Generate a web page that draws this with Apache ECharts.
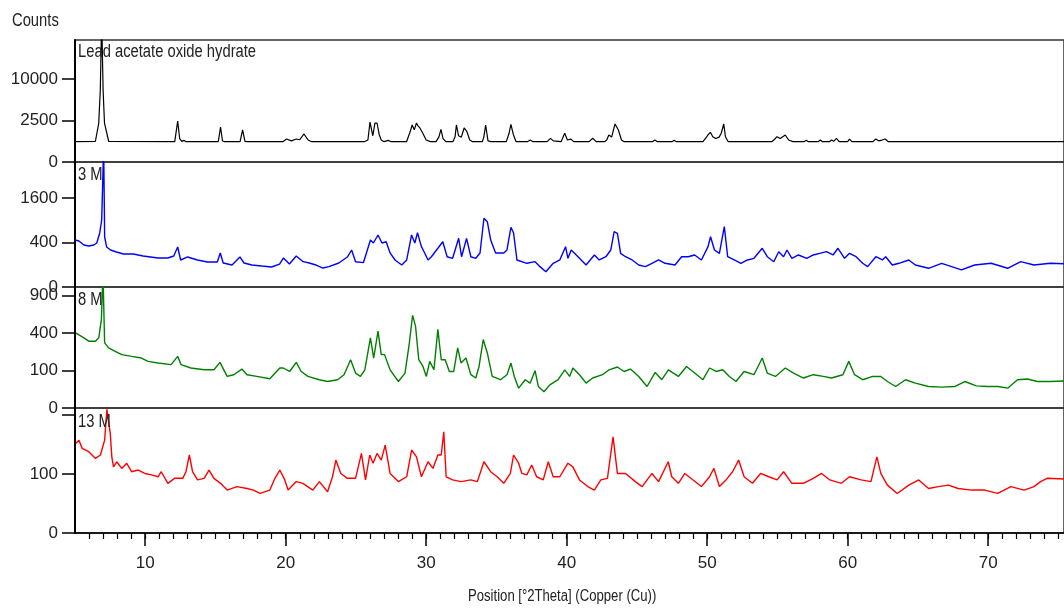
<!DOCTYPE html>
<html>
<head>
<meta charset="utf-8">
<script src="https://cdn.jsdelivr.net/npm/echarts@6/dist/echarts.min.js"></script>
<style>
  html, body { margin: 0; padding: 0; background: #fff; }
  #chart { width: 1064px; height: 608px; }
</style>
</head>
<body>
<div id="chart"></div>
<script>
// XRD patterns, [2theta, counts]
const leadAcetate = [
  [5.0,600],[6.45,610],[6.69,2200],[6.8,7500],[6.9,30000],[7.0,7500],[7.1,2200],[7.4,610],
  [12.1,600],[12.2,700],[12.31,2440],[12.45,800],[12.6,620],[12.75,680],[12.9,600],
  [15.2,600],[15.36,1780],[15.5,640],[15.65,600],
  [16.75,600],[16.93,1490],[17.1,620],[17.25,600],
  [19.8,600],[20.05,770],[20.4,650],[20.75,770],[21.0,720],[21.3,1140],[21.6,700],[21.85,600],
  [22.55,600],[22.65,660],[22.75,600],
  [25.6,600],[25.85,700],[26.0,2320],[26.2,1000],[26.35,2200],[26.5,2210],[26.65,1100],[26.8,700],[27.0,600],[27.3,680],[27.5,600],
  [28.6,600],[28.85,1300],[29.0,1990],[29.15,1500],[29.3,2200],[29.42,1900],[29.55,1680],[29.75,1220],[30.0,700],[30.3,600],
  [30.7,600],[30.9,900],[31.05,1550],[31.2,800],[31.4,600],
  [31.9,600],[32.05,900],[32.15,1990],[32.3,1000],[32.5,900],[32.7,1680],[32.9,1330],[33.1,700],[33.3,600],
  [34.0,600],[34.1,900],[34.23,1990],[34.4,650],[34.6,600],
  [35.7,600],[35.9,1200],[36.03,2060],[36.2,1100],[36.4,600],
  [37.2,600],[37.4,700],[37.6,600],[38.6,600],[38.85,810],[39.05,650],[39.6,600],[39.86,1200],[40.05,700],[40.3,760],[40.5,600],
  [41.6,600],[41.85,815],[42.1,600],
  [42.7,600],[42.85,700],[43.0,1060],[43.2,900],[43.44,2100],[43.68,1490],[43.9,700],[44.1,600],
  [46.1,600],[46.28,700],[46.45,600],[47.5,600],[47.65,680],[47.8,600],
  [49.7,600],[49.95,900],[50.05,1060],[50.23,1280],[50.4,930],[50.6,800],[50.85,900],[51.0,1200],[51.18,2100],[51.3,930],[51.5,600],
  [54.6,600],[54.8,750],[54.97,930],[55.2,800],[55.56,1060],[55.8,700],[56.1,600],
  [56.9,600],[57.05,680],[57.2,600],[57.9,600],[58.05,700],[58.2,600],[58.7,600],[58.85,700],[59.0,620],[59.2,810],[59.4,600],
  [60.0,600],[60.13,760],[60.3,600],[61.8,600],[62.0,770],[62.2,650],[62.45,700],[62.67,770],[62.9,600],[75.4,600]
];

const m3 = [
  [5.0,448],[5.28,429],[5.63,358],[5.98,341],[6.34,358],[6.55,393],[6.76,592],[6.9,911],[7.04,4000],[7.11,507],
  [7.25,325],[7.53,278],[7.95,249],[8.45,221],[9.15,221],[9.85,195],[10.91,171],[11.61,171],[12.03,195],[12.31,325],
  [12.52,148],[13.02,183],[13.72,148],[14.42,127],[15.13,127],[15.34,235],[15.55,117],[16.18,98],[16.74,183],[17.03,117],
  [17.59,98],[18.29,89],[18.99,81],[19.56,107],[19.84,171],[20.26,107],[20.75,195],[21.24,130],[21.67,117],[22.16,98],
  [22.65,73],[23.07,84],[23.78,117],[24.41,186],[24.69,278],[24.97,130],[25.53,120],[26.03,448],[26.24,393],[26.57,549],
  [26.85,393],[27.15,416],[27.43,235],[27.78,148],[28.26,98],[28.61,148],[28.96,549],[29.19,393],[29.38,598],[29.66,330],
  [29.89,235],[30.13,148],[30.37,186],[30.83,304],[31.18,416],[31.49,186],[31.88,167],[32.31,481],[32.52,186],[32.87,481],
  [33.18,186],[33.53,167],[33.83,235],[34.11,958],[34.35,865],[34.59,448],[34.94,235],[35.52,235],[35.75,278],[36.03,723],
  [36.22,592],[36.46,148],[37.16,114],[37.75,130],[38.1,84],[38.52,47],[39.04,114],[39.51,148],[39.92,330],[40.09,167],
  [40.32,278],[40.56,230],[40.91,167],[41.38,98],[41.97,208],[42.32,148],[42.79,186],[43.14,278],[43.38,620],[43.61,585],
  [43.84,230],[44.19,186],[44.66,148],[45.13,98],[45.6,84],[46.07,114],[46.54,148],[47.0,114],[47.71,98],[48.18,186],
  [48.65,186],[49.11,208],[49.59,148],[50.06,330],[50.24,513],[50.52,278],[50.87,230],[51.22,738],[51.46,186],[51.93,148],
  [52.4,114],[52.87,148],[53.33,167],[53.92,304],[54.28,186],[54.74,130],[55.09,253],[55.44,186],[55.68,278],[56.03,167],
  [56.5,208],[57.09,167],[57.55,208],[58.02,230],[58.49,253],[58.96,208],[59.31,304],[59.78,167],[60.13,230],[60.6,186],
  [61.07,114],[61.42,84],[62.01,186],[62.47,148],[62.71,186],[63.18,98],[63.65,114],[64.35,148],[64.82,98],[65.76,71],
  [66.69,114],[67.4,84],[68.1,59],[69.04,98],[70.21,114],[71.39,71],[72.32,130],[73.26,98],[74.43,114],[75.4,110]
];

const m8 = [
  [5.05,403],[5.63,351],[5.98,318],[6.46,318],[6.69,351],[6.88,560],[6.99,1300],[7.11,302],[7.39,258],[7.86,229],
  [8.33,203],[9.03,190],[9.73,178],[10.2,155],[10.91,144],[11.84,134],[12.31,190],[12.55,134],[13.25,114],[14.19,104],
  [14.89,104],[15.32,148],[15.83,71],[16.3,79],[16.88,108],[17.24,79],[17.94,71],[18.87,61],[19.58,114],[19.82,114],
  [20.28,95],[20.75,148],[21.1,95],[21.58,71],[22.39,57],[22.98,50],[23.69,57],[24.15,79],[24.62,166],[24.97,87],
  [25.32,71],[25.63,104],[26.03,351],[26.26,178],[26.57,421],[26.8,203],[27.03,203],[27.43,104],[28.02,50],[28.49,87],
  [28.77,272],[29.03,612],[29.24,478],[29.47,166],[29.77,123],[30.01,71],[30.25,155],[30.55,104],[30.83,440],[31.07,166],
  [31.35,166],[31.65,95],[31.96,95],[32.24,258],[32.48,144],[32.83,178],[33.18,79],[33.53,64],[33.76,123],[34.06,334],
  [34.35,216],[34.7,71],[35.29,57],[35.75,79],[36.03,144],[36.27,71],[36.58,28],[37.05,57],[37.4,44],[37.75,100],
  [37.98,33],[38.38,19],[38.8,38],[39.39,57],[39.86,104],[40.21,71],[40.44,114],[40.91,79],[41.38,44],[41.85,64],
  [42.55,79],[43.02,104],[43.61,120],[44.08,95],[44.54,108],[45.13,71],[45.72,33],[46.3,90],[46.77,57],[47.24,104],
  [47.95,71],[48.53,123],[49.11,87],[49.7,57],[50.17,114],[50.64,95],[51.11,104],[51.58,71],[52.05,50],[52.63,95],
  [53.33,79],[53.92,178],[54.28,87],[54.86,71],[55.56,114],[56.15,87],[56.85,64],[57.55,79],[58.26,71],[58.85,64],
  [59.66,79],[60.08,155],[60.49,79],[61.07,57],[61.77,71],[62.36,71],[62.83,50],[63.42,33],[64.12,57],[64.82,44],
  [65.76,33],[66.69,31],[67.64,33],[68.34,50],[69.16,35],[69.98,33],[70.68,33],[71.39,28],[72.09,57],[72.79,60],
  [73.5,50],[74.43,50],[75.4,52]
];

const m13 = [
  [5.05,231],[5.28,248],[5.51,206],[5.98,190],[6.46,160],[6.81,175],[7.11,248],[7.27,440],[7.51,286],[7.62,167],
  [7.74,126],[7.97,146],[8.33,120],[8.68,140],[9.03,108],[9.5,114],[9.97,102],[10.44,97],[10.91,91],[11.14,108],
  [11.61,71],[12.08,86],[12.67,86],[12.9,108],[13.14,175],[13.37,108],[13.72,81],[14.19,86],[14.54,114],[14.89,86],
  [15.36,71],[15.83,53],[16.53,62],[17.24,57],[17.71,53],[18.17,45],[18.87,53],[19.23,86],[19.58,114],[19.93,81],
  [20.17,53],[20.75,76],[21.22,71],[21.93,53],[22.39,76],[22.98,49],[23.33,91],[23.57,153],[23.92,102],[24.39,86],
  [24.97,86],[25.39,182],[25.68,81],[25.98,175],[26.22,140],[26.5,182],[26.8,153],[27.08,222],[27.43,102],[28.02,76],
  [28.61,91],[28.96,198],[29.31,167],[29.66,91],[30.13,146],[30.48,120],[30.83,175],[31.07,175],[31.25,295],[31.42,91],
  [31.88,81],[32.48,76],[33.18,81],[33.64,76],[34.11,146],[34.59,108],[35.05,91],[35.52,71],[35.99,102],[36.22,175],
  [36.58,140],[36.81,102],[37.16,97],[37.51,133],[37.86,91],[38.33,81],[38.69,146],[39.04,91],[39.51,91],[40.09,140],
  [40.44,126],[40.91,81],[41.5,62],[41.97,53],[42.43,81],[42.9,86],[43.3,266],[43.61,102],[44.19,102],[44.89,76],
  [45.37,62],[46.07,102],[46.54,76],[47.23,146],[47.48,91],[47.95,71],[48.41,102],[49.0,81],[49.59,62],[50.17,91],
  [50.48,120],[50.87,62],[51.34,81],[51.81,108],[52.24,153],[52.63,91],[53.22,71],[53.8,102],[54.39,91],[54.98,81],
  [55.44,108],[56.03,71],[56.85,71],[57.55,86],[58.14,102],[58.73,81],[59.55,71],[60.13,91],[60.96,81],[61.66,76],
  [62.08,167],[62.36,102],[62.83,66],[63.53,45],[64.35,66],[65.06,81],[65.76,57],[66.46,62],[67.17,66],[67.87,57],
  [68.81,53],[69.75,53],[70.68,45],[71.62,62],[72.56,53],[73.26,62],[73.73,76],[74.2,86],[75.4,84]
];

const panelNames = ['Lead acetate oxide hydrate', '3 M', '8 M', '13 M'];
const panelColors = ['#000000', '#0000ff', '#008000', '#ff0000'];
const panelData = [leadAcetate, m3, m8, m13];

// y ticks (counts, square-root scale)
const yTicks = [[0, 2500, 10000], [0, 400, 1600], [0, 100, 400, 900], [0, 100, 400]];
const yLabels = [[0, 2500, 10000], [0, 400, 1600], [0, 100, 400, 900], [0, 100]];
const yTop = [147, 56.3, 32.3, 21.2]; // sqrt(counts) at panel top

const xLabels = [10, 20, 30, 40, 50, 60, 70];
const xMin = 5;
const xMax = 75.4;

const FONT = '"Liberation Sans", Arial, sans-serif';
const NARROW = 0.82; // horizontal squeeze for the free texts

const grids = [
  { left: 75, top: 40, width: 1000, height: 122 },
  { left: 75, top: 162, width: 1000, height: 125 },
  { left: 75, top: 287, width: 1000, height: 121 },
  { left: 75, top: 408, width: 1000, height: 125 }
];
const labelTops = [43, 166, 291, 413];

// minor ticks every degree
const minorTicks = [];
for (let t = 6; t <= 75; t++) minorTicks.push(t);

const chart = echarts.init(document.getElementById('chart'));

const xAxis = grids.map((g, i) => ({
  gridIndex: i,
  type: 'value',
  min: xMin,
  max: xMax,
  show: false
}));
xAxis[3] = {
  gridIndex: 3,
  type: 'value',
  min: xMin,
  max: xMax,
  position: 'bottom',
  axisLine: { show: true, lineStyle: { color: '#000', width: 1.5 } },
  axisTick: { show: true, customValues: minorTicks, length: 6, lineStyle: { color: '#000', width: 1.2 } },
  axisLabel: { customValues: xLabels, margin: 22, fontSize: 17, fontFamily: FONT, color: '#222' },
  splitLine: { show: false }
};
xAxis.push({
  gridIndex: 3,
  type: 'value',
  min: xMin,
  max: xMax,
  position: 'bottom',
  axisLine: { show: false },
  axisTick: { show: true, customValues: xLabels, length: 13, lineStyle: { color: '#000', width: 1.5 } },
  axisLabel: { show: false },
  splitLine: { show: false }
});

const yAxis = grids.map((g, i) => ({
  gridIndex: i,
  type: 'value',
  min: 0,
  max: yTop[i],
  axisLine: { show: true, lineStyle: { color: '#000', width: 2 } },
  axisTick: { show: true, customValues: yTicks[i].map(Math.sqrt), length: 13, lineStyle: { color: '#000', width: 1.5 } },
  axisLabel: {
    customValues: yLabels[i].map(Math.sqrt),
    formatter: v => String(Math.round(v * v)),
    margin: 17,
    fontSize: 17,
    fontFamily: FONT,
    color: '#222'
  },
  splitLine: { show: false }
}));

const series = panelData.map((d, i) => ({
  type: 'line',
  xAxisIndex: i,
  yAxisIndex: i,
  data: d.map(p => [p[0], Math.sqrt(p[1])]),
  showSymbol: false,
  silent: true,
  lineStyle: { color: panelColors[i], width: i === 0 ? 1.2 : 1.4 },
  z: 3
}));

function narrowText(text, x, y, size) {
  return {
    type: 'text', x: x, y: y, scaleX: NARROW, z: 10,
    style: { text: text, font: size + 'px ' + FONT, fill: '#222', verticalAlign: 'top' }
  };
}
const texts = panelNames.map((name, i) => narrowText(name, 78, labelTops[i], 18));
texts.push(narrowText('Counts', 12, 12, 18));
texts.push(narrowText('Position [°2Theta] (Copper (Cu))', 468, 589, 16));

chart.setOption({
  animation: false,
  backgroundColor: '#fff',
  grid: grids.map(g => Object.assign({ show: true, borderColor: '#333', borderWidth: 1.5 }, g)),
  xAxis: xAxis,
  yAxis: yAxis,
  series: series,
  graphic: texts
});
</script>
</body>
</html>
